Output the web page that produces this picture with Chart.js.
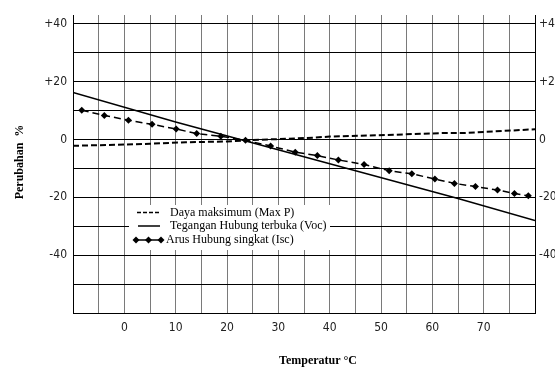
<!DOCTYPE html>
<html>
<head>
<meta charset="utf-8">
<script src="https://cdn.jsdelivr.net/npm/chart.js@4/dist/chart.umd.min.js"></script>
<style>
  html, body { margin: 0; padding: 0; background: #fff; }
  #wrap { width: 555px; height: 368px; }
</style>
</head>
<body>
<div id="wrap"><canvas id="chart" width="555" height="368"></canvas></div>
<script>
// values
const xTicks = [-10, -5, 0, 5, 10, 15, 20, 25, 30, 35, 40, 45, 50, 55, 60, 65, 70, 75, 80];
const yTicks = [-60, -50, -40, -30, -20, -10, 0, 10, 20, 30, 40];

const maxPTemp = [-10, 0, 5, 12, 20, 24, 37, 40, 49, 62, 66, 80];
const maxPVals = [-2.2, -1.8, -1.5, -1.0, -0.7, -0.3, 0.6, 1.0, 1.4, 2.2, 2.2, 3.5];

const vocTemp = [-10, 10, 65, 80];
const vocVals = [16.2, 6.0, -20.4, -28.0];

const iscTemp = [-8.3, -3.9, 0.8, 5.4, 10.1, 14.1, 18.8, 23.6, 28.5, 33.3, 37.6, 41.7, 46.7, 51.6, 56, 60.5, 64.3, 68.4, 72.7, 76, 78.7];
const iscVals = [10.1, 8.3, 6.6, 5.2, 3.6, 2.0, 1.1, -0.3, -2.3, -4.4, -5.6, -7.1, -8.7, -10.8, -11.9, -13.7, -15.2, -16.3, -17.5, -18.7, -19.5];

const legendLabels = ['Daya maksimum (Max P)', 'Tegangan Hubung terbuka (Voc)', 'Arus Hubung singkat (Isc)'];
const xTitle = 'Temperatur \u00B0C';
const yTitle = 'Perubahan  %';

const toPoints = (xs, ys) => xs.map((x, i) => ({ x: x, y: ys[i] }));

const tickFont = { family: "'Liberation Sans Narrow', 'Arial Narrow', 'DejaVu Sans Condensed', sans-serif", size: 12 };
const serif = "'Liberation Serif', 'Times New Roman', serif";

const yLabel = (v) => (v % 20 === 0 && v >= -40) ? (v > 0 ? '+' + v : String(v)) : '';

// legend box and axis titles drawn onto the canvas
const extras = {
  id: 'extras',
  afterDraw(chart) {
    const ctx = chart.ctx;
    ctx.save();
    ctx.fillStyle = '#fff';
    ctx.fillRect(129, 205, 201, 45);

    ctx.strokeStyle = '#000';
    ctx.fillStyle = '#000';
    ctx.lineWidth = 1.5;
    // Max P
    ctx.setLineDash([4, 2]);
    ctx.beginPath(); ctx.moveTo(137, 212.5); ctx.lineTo(160, 212.5); ctx.stroke();
    // Voc
    ctx.setLineDash([]);
    ctx.beginPath(); ctx.moveTo(138, 226); ctx.lineTo(160, 226); ctx.stroke();
    // Isc
    ctx.beginPath(); ctx.moveTo(136, 240); ctx.lineTo(162, 240); ctx.stroke();
    [136, 148.5, 161].forEach(cx => {
      ctx.beginPath();
      ctx.moveTo(cx, 236.5); ctx.lineTo(cx + 3.5, 240); ctx.lineTo(cx, 243.5); ctx.lineTo(cx - 3.5, 240);
      ctx.closePath(); ctx.fill();
    });

    ctx.font = '12px ' + serif;
    ctx.textBaseline = 'middle';
    ctx.textAlign = 'left';
    ctx.fillText(legendLabels[0], 170, 212.5);
    ctx.fillText(legendLabels[1], 170, 226);
    ctx.fillText(legendLabels[2], 166, 240);

    ctx.font = 'bold 12px ' + serif;
    ctx.textAlign = 'center';
    ctx.fillText(xTitle, 318, 361);
    ctx.translate(20, 162);
    ctx.rotate(-Math.PI / 2);
    ctx.fillText(yTitle, 0, 0);
    ctx.restore();
  }
};

new Chart(document.getElementById('chart').getContext('2d'), {
  type: 'line',
  data: {
    datasets: [
      {
        label: legendLabels[0],
        data: toPoints(maxPTemp, maxPVals),
        borderColor: '#000',
        borderWidth: 2,
        borderDash: [6, 3],
        pointRadius: 0,
        tension: 0,
      },
      {
        label: legendLabels[1],
        data: toPoints(vocTemp, vocVals),
        borderColor: '#000',
        borderWidth: 1.5,
        pointRadius: 0,
        tension: 0,
      },
      {
        label: legendLabels[2],
        data: toPoints(iscTemp, iscVals),
        borderColor: '#000',
        borderWidth: 1.5,
        borderDash: [7, 4],
        pointStyle: 'rectRot',
        pointRadius: 3.5,
        pointBackgroundColor: '#000',
        pointBorderColor: '#000',
        pointBorderWidth: 0,
        tension: 0,
      },
    ],
  },
  options: {
    responsive: false,
    animation: false,
    devicePixelRatio: 1,
    layout: { padding: { top: 15, left: 0, right: 0, bottom: 0 } },
    plugins: { legend: { display: false }, tooltip: { enabled: false } },
    scales: {
      x: {
        type: 'linear',
        min: -10,
        max: 80,
        afterBuildTicks: (scale) => { scale.ticks = xTicks.map(v => ({ value: v })); },
        afterFit: (scale) => { scale.height = 55; },
        grid: { color: '#7a7a7a', lineWidth: 1, drawTicks: false },
        border: { color: '#000', width: 1 },
        ticks: {
          autoSkip: false,
          maxRotation: 0,
          padding: 8,
          color: '#222',
          font: tickFont,
          callback: (v) => (v % 10 === 0 && v >= 0 && v <= 70) ? String(v) : '',
        },
      },
      y: {
        type: 'linear',
        position: 'left',
        min: -60,
        max: 43,
        afterBuildTicks: (scale) => { scale.ticks = yTicks.map(v => ({ value: v })); },
        afterFit: (scale) => { scale.width = 73; },
        grid: { color: '#000', lineWidth: 1, drawTicks: false },
        border: { color: '#000', width: 1 },
        ticks: { padding: 6, color: '#222', font: tickFont, callback: yLabel },
      },
      y2: {
        type: 'linear',
        position: 'right',
        min: -60,
        max: 43,
        afterBuildTicks: (scale) => { scale.ticks = yTicks.map(v => ({ value: v })); },
        afterFit: (scale) => { scale.width = 20; },
        grid: { display: false, drawTicks: false },
        border: { color: '#000', width: 1 },
        ticks: { padding: 4, color: '#222', font: tickFont, callback: yLabel },
      },
    },
  },
  plugins: [extras],
});
</script>
</body>
</html>
